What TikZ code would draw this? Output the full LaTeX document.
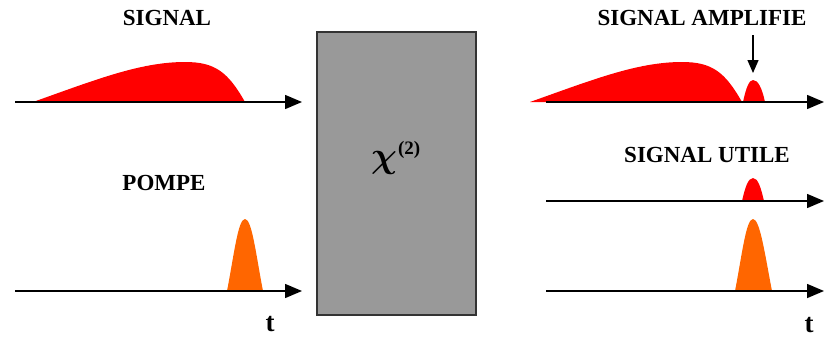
\documentclass[tikz,border=0pt]{standalone}
\usepackage{graphicx}
\usepackage{fontspec}
\setmainfont{Liberation Serif}
\usetikzlibrary{arrows.meta}
\definecolor{sigred}{HTML}{FF0000}
\definecolor{pumporange}{HTML}{FF6600}
\definecolor{boxgray}{HTML}{999999}
\definecolor{boxedge}{HTML}{333333}
\tikzset{
  axisline/.style={line width=1.5pt,-{Triangle[length=17pt,width=14pt]}},
  lbl/.style={font=\fontsize{23}{26}\selectfont\bfseries,inner sep=0pt},
  tlbl/.style={font=\fontsize{27}{30}\selectfont\bfseries,inner sep=0pt},
  sigpulse/.style={fill=sigred,draw=none},
  pumppulse/.style={fill=pumporange,draw=none},
  crystal/.style={fill=boxgray,draw=boxedge,line width=1.2pt}
}
\begin{document}
\begin{tikzpicture}[x=1pt,y=-1pt]
\useasboundingbox (0,0) rectangle (824,340);
% left side
\node[lbl] (lsig) at (167,18) {SIGNAL};
\node[lbl] (lpomp) at (164,183) {POMPE};
\node[tlbl] (lt) at (270,324) {t};
\fill[sigpulse] (33,102) .. controls (95,80) and (140,62) .. (185,62)
  .. controls (215,62) and (228,72) .. (245,102) -- cycle;
\fill[pumppulse] (227,291) .. controls (234,255) and (238,219) .. (245,219)
  .. controls (252,219) and (256,255) .. (263,291) -- cycle;
\coordinate (a1s) at (15,102); \coordinate (a1e) at (302,102);
\coordinate (a2s) at (15,291); \coordinate (a2e) at (302,291);
\draw[axisline] (a1s) -- (a1e);
\draw[axisline] (a2s) -- (a2e);
% crystal
\node[crystal,minimum width=159pt,minimum height=283pt,inner sep=0pt] (box) at (396.5,173.5) {};
\node[inner sep=0pt,anchor=base west] (chi) at (371,167) {\scalebox{1.45}{\fontsize{24}{26}\selectfont\boldmath$\chi$}\hspace{1pt}\raisebox{13pt}{\fontsize{19}{20}\selectfont\bfseries(2)}};
% right side
\node[lbl] (rsig) at (702,18) {SIGNAL AMPLIFIE};
\node[lbl] (rut) at (707,155) {SIGNAL UTILE};
\node[tlbl] (rt) at (809,325) {t};
\fill[sigpulse] (530,102) .. controls (592,80) and (637,62) .. (682,62)
  .. controls (712,62) and (725,72) .. (742,102) -- cycle;
\fill[sigpulse] (743,102) .. controls (746,88) and (749,80) .. (753,80)
  .. controls (758,80) and (762,88) .. (765,102) -- cycle;
\fill[sigpulse] (742,201) .. controls (745,188) and (748,178) .. (753,178)
  .. controls (758,178) and (761,188) .. (764,201) -- cycle;
\fill[pumppulse] (735,291) .. controls (742,255) and (746,219) .. (753,219)
  .. controls (760,219) and (765,255) .. (772,291) -- cycle;
\coordinate (a3s) at (546,102); \coordinate (a3e) at (824,102);
\coordinate (a4s) at (546,201); \coordinate (a4e) at (824,201);
\coordinate (a5s) at (546,291); \coordinate (a5e) at (824,291);
\draw[axisline] (a3s) -- (a3e);
\draw[axisline] (a4s) -- (a4e);
\draw[axisline] (a5s) -- (a5e);
\coordinate (pk) at (753,73);
\draw[line width=1.3pt,-{Triangle[length=13pt,width=11pt]}] (753,35) -- (pk);
\end{tikzpicture}
\end{document}
